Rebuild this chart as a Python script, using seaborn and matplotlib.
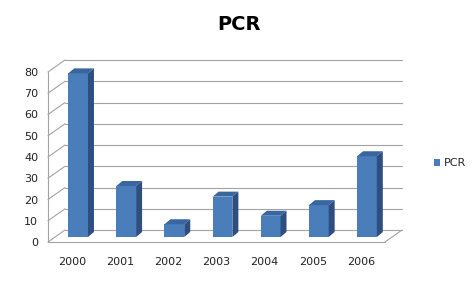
import numpy as np
import pandas as pd
import matplotlib
matplotlib.use("Agg")
import matplotlib.pyplot as plt
import seaborn as sns
from matplotlib.patches import Polygon, Patch
from matplotlib.lines import Line2D
import matplotlib.transforms as mtransforms

# ---- data ----
years = ["2000", "2001", "2002", "2003", "2004", "2005", "2006"]
values = [77, 24, 6, 19, 10, 15, 38]
yticks = [0, 10, 20, 30, 40, 50, 60, 70, 80]
title = "PCR"
series_name = "PCR"

sns.set_theme(style="white")
plt.rcParams["font.family"] = ["DejaVu Sans"]

DPI = 100
fig = plt.figure(figsize=(4.76, 2.86), dpi=DPI)
fig.patch.set_facecolor("white")
ax = fig.add_axes([48 / 476, 44 / 286, 337 / 476, 170 / 286])
ax.set_facecolor("none")

front = "#4A7EBB"
top_c = "#3A66A0"
side_c = "#2D4E7E"
grid_c = "#A3A3A3"

df = pd.DataFrame({"year": years, "value": values})
sns.barplot(data=df, x="year", y="value", color=front, width=0.41,
            saturation=1, ax=ax, zorder=2)
ax.set_xlim(-0.5, len(years) - 0.5)
ax.set_ylim(0, 80)
for s in ax.spines.values():
    s.set_visible(False)
ax.set_xlabel("")
ax.set_ylabel("")
ax.set_yticks(yticks)
ax.set_yticklabels([str(v) for v in yticks])
ax.tick_params(axis="y", length=0, pad=7, labelsize=8, colors="#222222")
ax.tick_params(axis="x", which="major", length=0, pad=11, labelsize=8, colors="#222222")
ax.set_xticks(np.arange(-0.5, len(years)), minor=True)
ax.tick_params(axis="x", which="minor", length=5, width=0.8, color=grid_c, direction="out")
ax.grid(False)

ident = mtransforms.IdentityTransform()
T = ax.transData
BX, BY = 6, 5      # bar front offset (px)
DX, DY = 6, 5      # bar depth (px)
WX, WY = 17, 12    # back wall offset (px)

x0p, y0p = T.transform((-0.5, 0))
x1p, _ = T.transform((len(years) - 0.5, 0))
_, ytop = T.transform((-0.5, 80))

def line(xs, ys, color=grid_c, lw=0.8, z=0.5):
    ax.add_line(Line2D(xs, ys, transform=ident, color=color, lw=lw,
                       clip_on=False, zorder=z))

# walls and grid
for v in yticks:
    _, yf = T.transform((0, v))
    line([x0p + WX, x1p + WX], [yf + WY, yf + WY])
    line([x0p, x0p + WX], [yf, yf + WY])
line([x0p, x0p], [y0p, ytop])
line([x0p, x1p], [y0p, y0p])
line([x1p, x1p + WX], [y0p, y0p + WY])

# bars: shift front faces and add top/side faces
shift = mtransforms.ScaledTranslation(BX / DPI, BY / DPI, fig.dpi_scale_trans)
for p in ax.patches:
    x, w, h = p.get_x(), p.get_width(), p.get_height()
    p.set_transform(T + shift)
    p.set_edgecolor("none")
    (xl, yb) = T.transform((x, 0)) + np.array([BX, BY])
    (xr, yt) = T.transform((x + w, h)) + np.array([BX, BY])
    top = Polygon([(xl, yt), (xr, yt), (xr + DX, yt + DY), (xl + DX, yt + DY)],
                  closed=True, transform=ident, facecolor=top_c,
                  edgecolor="none", clip_on=False, zorder=2)
    side = Polygon([(xr, yb), (xr + DX, yb + DY), (xr + DX, yt + DY), (xr, yt)],
                   closed=True, transform=ident, facecolor=side_c,
                   edgecolor="none", clip_on=False, zorder=2)
    ax.add_patch(top)
    ax.add_patch(side)

fig.text(239 / 476, 1 - 25 / 286, title, ha="center", va="center",
         fontsize=14, fontweight="bold", color="#000000")

fig.legend(handles=[Patch(facecolor=front, edgecolor="none")], labels=[series_name],
           loc="center left", bbox_to_anchor=(428 / 476, 1 - 163 / 286),
           frameon=False, handlelength=0.6, handleheight=0.6, handletextpad=0.3,
           fontsize=8, borderpad=0)

fig.savefig("out.png", dpi=DPI, facecolor="white")
